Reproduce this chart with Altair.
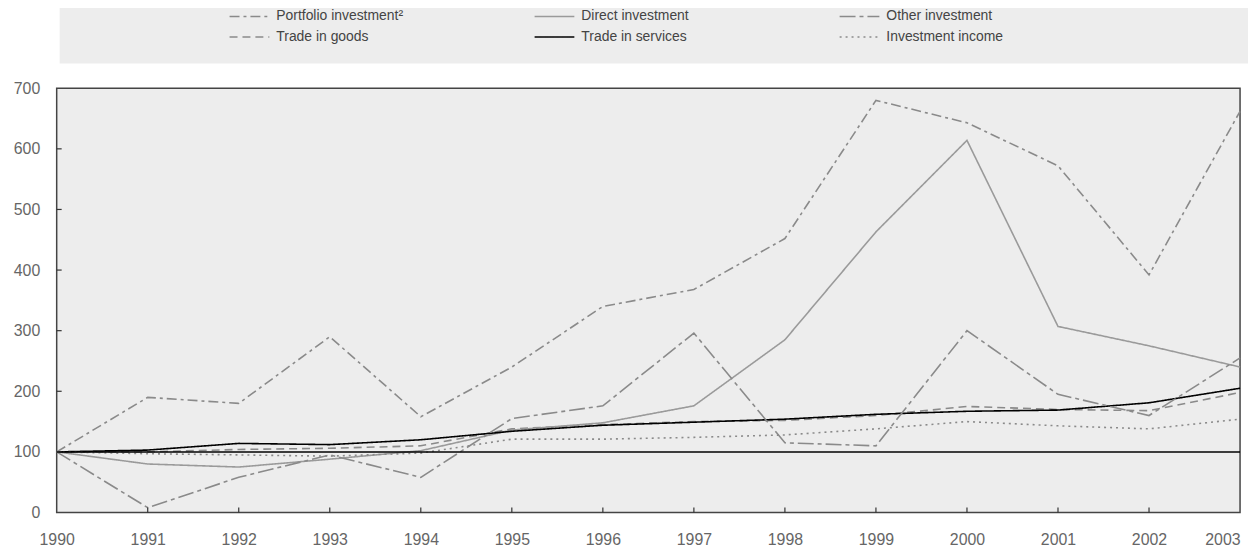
import altair as alt
import pandas as pd

years = list(range(1990, 2004))
portfolio = [100, 190, 180, 290, 158, 240, 340, 368, 452, 680, 643, 572, 392, 662]
direct = [100, 80, 75, 88, 102, 136, 148, 176, 285, 463, 614, 307, 275, 240]
other = [100, 8, 58, 95, 58, 155, 176, 296, 115, 110, 300, 195, 160, 255]
goods = [100, 100, 104, 106, 110, 138, 145, 150, 152, 160, 175, 170, 168, 198]
services = [100, 103, 114, 112, 120, 134, 144, 149, 154, 162, 167, 169, 181, 205]
income = [100, 97, 95, 93, 98, 121, 121, 124, 128, 138, 150, 143, 138, 154]

# legend order (column-major fill: col1 = Portfolio / Trade in goods, ...)
series_names = ["Portfolio investment²", "Trade in goods", "Direct investment",
                "Trade in services", "Other investment", "Investment income"]
series_values = [portfolio, goods, direct, services, other, income]
colors = ["#8a8a8a", "#8a8a8a", "#9a9a9a", "#000000", "#8a8a8a", "#8a8a8a"]
dashes = [[10, 4, 3, 4], [8, 5], [1, 0], [1, 0], [16, 4, 4, 4], [2, 4]]
widths = [1.6, 1.6, 1.8, 2.2, 1.6, 1.6]

rows = []
for name, vals in zip(series_names, series_values):
    for y, v in zip(years, vals):
        rows.append({"year": y, "value": v, "series": name})
df = pd.DataFrame(rows)

W, H = 1191, 427
FONT = "Liberation Sans, Arial"

xscale = alt.Scale(domain=[1990, 2003], nice=False)
yscale = alt.Scale(domain=[0, 700], nice=False)

bg = alt.Chart(pd.DataFrame({"a": [0]})).mark_rect(fill="#ededed").encode(
    x=alt.value(3), x2=alt.value(1199), y=alt.value(-87), y2=alt.value(-25)
)

lines = alt.Chart(df).mark_line(strokeCap="butt").encode(
    x=alt.X("year:Q", scale=xscale, title=None,
            axis=alt.Axis(values=years, format="d", ticks=False, domain=False, grid=False,
                          labelFont=FONT, labelFontSize=16, labelColor="#666",
                          labelPadding=19,
                          labelAlign={"condition": {"test": "datum.value == 2003", "value": "right"},
                                      "value": "center"})),
    y=alt.Y("value:Q", scale=yscale, title=None,
            axis=alt.Axis(values=list(range(0, 800, 100)), ticks=False, domain=False, grid=False,
                          labelFont=FONT, labelFontSize=16, labelColor="#666", labelPadding=17)),
    color=alt.Color("series:N", scale=alt.Scale(domain=series_names, range=colors),
                    sort=series_names,
                    legend=alt.Legend(title=None, orient="none", legendX=173, legendY=-86,
                                      columns=3, symbolType="M-1,0H2.2", symbolSize=625,
                                      labelFont=FONT, labelFontSize=14, labelColor="#444",
                                      labelOffset=21, columnPadding=128, rowPadding=0,
                                      gridAlign="all",
                                      padding=0, symbolStrokeWidth=1.6)),
    strokeDash=alt.StrokeDash("series:N", scale=alt.Scale(domain=series_names, range=dashes),
                              sort=series_names),
    strokeWidth=alt.StrokeWidth("series:N", scale=alt.Scale(domain=series_names, range=widths),
                                sort=series_names),
    order="year:Q",
)

ref = alt.Chart(pd.DataFrame({"v": [100]})).mark_rule(color="#000", strokeWidth=1.5).encode(
    y=alt.Y("v:Q", scale=yscale)
)

xt = alt.Chart(pd.DataFrame({"year": years[1:-1]})).mark_rule(color="#333", strokeWidth=1.2).encode(
    x=alt.X("year:Q", scale=xscale), y=alt.value(H), y2=alt.value(H - 5)
)
yt = alt.Chart(pd.DataFrame({"v": [100, 200, 300, 400, 500, 600]})).mark_rule(color="#333", strokeWidth=1.2).encode(
    y=alt.Y("v:Q", scale=yscale), x=alt.value(0), x2=alt.value(5)
)

chart = alt.layer(bg, lines, ref, xt, yt).properties(
    width=W, height=H,
    autosize=alt.AutoSizeParams(type="none"),
    padding={"left": 49, "top": 79, "right": 8, "bottom": 38},
    background="white",
).configure_view(fill="#ededed", stroke="#444", strokeWidth=1.5)

chart.save("out.html", embed_options={"renderer": "svg", "actions": False})
